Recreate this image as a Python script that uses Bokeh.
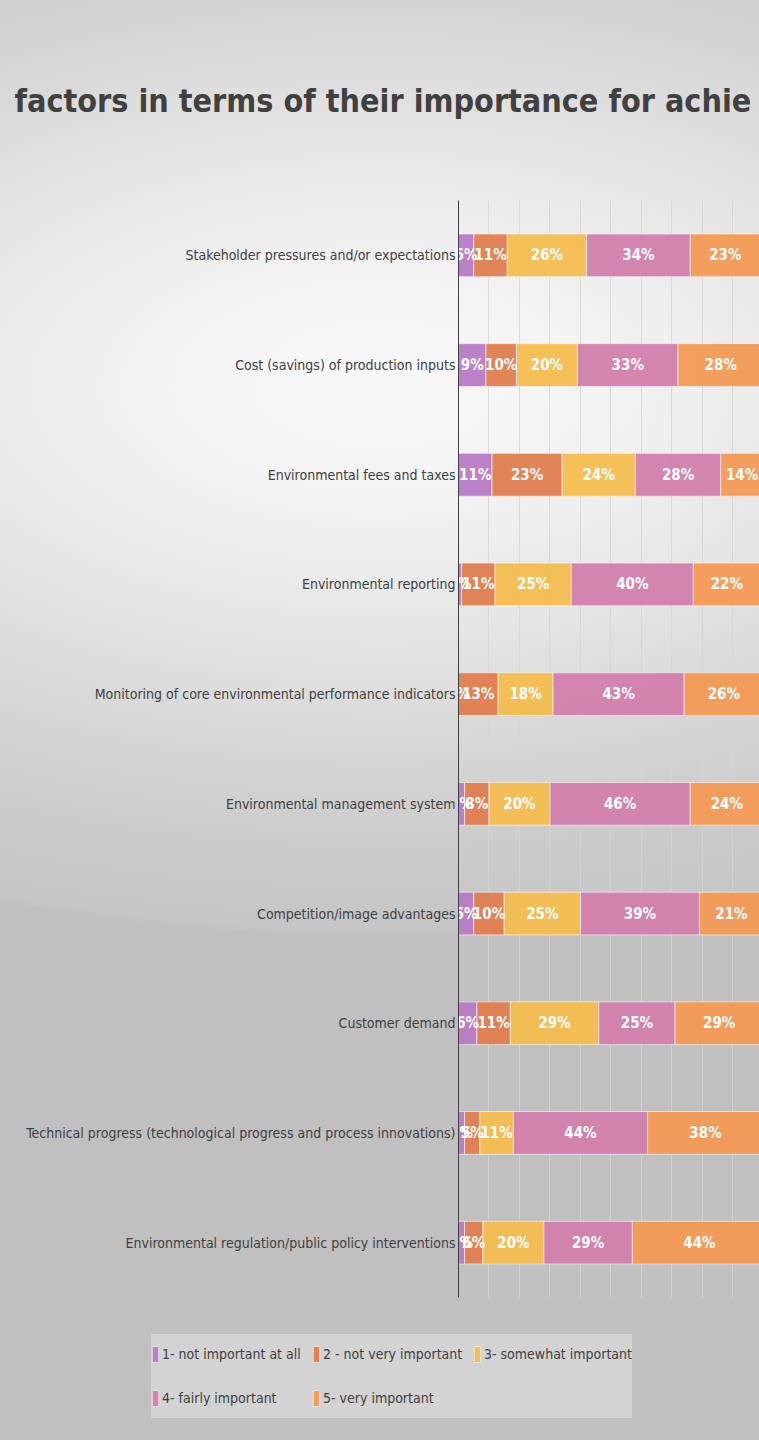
from bokeh.plotting import figure
from bokeh.layouts import column
from bokeh.models import ColumnDataSource, Legend, LegendItem, FactorRange, SingleIntervalTicker, Label
from bokeh.core.properties import value
from bokeh.embed import file_html
from bokeh.resources import INLINE

title_text = "factors in terms of their importance for achie"

categories = [
    "Stakeholder pressures and/or expectations",
    "Cost (savings) of production inputs",
    "Environmental fees and taxes",
    "Environmental reporting",
    "Monitoring of core environmental performance indicators",
    "Environmental management system",
    "Competition/image advantages",
    "Customer demand",
    "Technical progress (technological progress and process innovations)",
    "Environmental regulation/public policy interventions",
]

not_important_at_all = [5, 9, 11, 1, 0, 2, 5, 6, 2, 2]
not_very_important = [11, 10, 23, 11, 13, 8, 10, 11, 5, 6]
somewhat_important = [26, 20, 24, 25, 18, 20, 25, 29, 11, 20]
fairly_important = [34, 33, 28, 40, 43, 46, 39, 25, 44, 29]
very_important = [23, 28, 14, 22, 26, 24, 21, 29, 38, 44]

series_names = [
    "1- not important at all",
    "2 - not very important",
    "3- somewhat important",
    "4- fairly important",
    "5- very important",
]
series_values = [not_important_at_all, not_very_important, somewhat_important,
                 fairly_important, very_important]
colors = ["#b87bc6", "#df7d4f", "#f5bd50", "#d27fad", "#f39a55"]

FONT = "DejaVu Sans Condensed"


def no_align(fig):
    if "frame_align" in fig.properties():
        fig.frame_align = False


def bare(fig):
    fig.title.visible = False
    fig.background_fill_color = None
    fig.border_fill_color = None
    fig.outline_line_color = None


# ---- title panel ----
pt = figure(width=759, height=200, x_range=(0, 1), y_range=(0, 1),
            output_backend="svg", toolbar_location=None,
            min_border_left=0, min_border_right=0, min_border_top=0, min_border_bottom=0)
bare(pt)
no_align(pt)
pt.axis.visible = False
pt.grid.visible = False
pt.add_layout(Label(x=14, y=100, x_units="screen", y_units="screen", text=title_text,
                    text_font=FONT, text_font_style="bold", text_font_size="32px",
                    text_color="#404040", text_baseline="middle"))

# ---- chart ----
p = figure(
    width=759, height=1110,
    y_range=FactorRange(*list(reversed(categories))),
    x_range=(0, 98.7),
    output_backend="svg", toolbar_location=None,
    min_border_left=458, min_border_right=0,
    min_border_top=0, min_border_bottom=13,
)
bare(p)
no_align(p)

p.xaxis.visible = False
p.xgrid.ticker = SingleIntervalTicker(interval=10)
p.xgrid.grid_line_color = "#d4d4d4"
p.xgrid.grid_line_alpha = 0.8
p.ygrid.grid_line_color = None

yax = p.yaxis[0]
yax.axis_line_color = "#404040"
yax.axis_line_width = 1
yax.major_tick_line_color = None
yax.minor_tick_line_color = None
yax.major_tick_out = 0
yax.major_tick_in = 0
yax.major_label_standoff = 3
yax.major_label_text_font = FONT
yax.major_label_text_font_size = "14px"
yax.major_label_text_color = "#404040"

left = [0] * len(categories)
lab_x, lab_y, lab_t = [], [], []
for name, vals, col in zip(series_names, series_values, colors):
    right = [l + v for l, v in zip(left, vals)]
    src = ColumnDataSource(dict(y=categories, left=left, right=right))
    p.hbar(y="y", left="left", right="right", height=0.39, source=src,
           fill_color=col, fill_alpha=0.95, line_color="#f2f2f2", line_alpha=0.7,
           line_width=1)
    for c, l, v in zip(categories, left, vals):
        lab_x.append(l + v / 2)
        lab_y.append(c)
        lab_t.append(f"{v}%")
    left = right

lsrc = ColumnDataSource(dict(x=lab_x, y=lab_y, t=lab_t))
p.text(x="x", y="y", text="t", source=lsrc, text_align="center", text_baseline="middle",
       text_color="white", text_font=value(FONT), text_font_style="bold",
       text_font_size="15px")

# ---- legend panel ----
p2 = figure(width=759, height=130, x_range=(0, 1), y_range=(0, 1),
            output_backend="svg", toolbar_location=None,
            min_border_left=0, min_border_right=0, min_border_top=0, min_border_bottom=0)
bare(p2)
no_align(p2)
p2.axis.visible = False
p2.grid.visible = False
nan = float("nan")
leg_renderers = []
for col in colors:
    r = p2.hbar(y="y", left="left", right="right", height=0.39,
                source=ColumnDataSource(dict(y=[nan], left=[nan], right=[nan])),
                fill_color=col, fill_alpha=0.95, line_color="#f2f2f2", line_alpha=0.7)
    leg_renderers.append(r)

legend = Legend(
    items=[LegendItem(label=n, renderers=[r]) for n, r in zip(series_names, leg_renderers)],
    orientation="horizontal", ncols=3,
    location=(151, 22),
    background_fill_color="#d3d3d3", background_fill_alpha=1.0,
    border_line_color=None,
    label_text_font=FONT, label_text_font_size="14px", label_text_color="#404040",
    glyph_width=8, glyph_height=20, label_standoff=3, spacing=4, padding=14,
    label_height=40, label_width=146,
)
p2.add_layout(legend, "center")

layout = column(pt, p, p2, spacing=0)
layout.styles = {
    "background-image": "radial-gradient(ellipse 1100px 560px at 380px 385px, "
                        "#f9f9f9 0%, #f3f3f3 20%, #e8e8e8 40%, #dadada 60%, "
                        "#cdcdcd 80%, #c5c5c5 97.5%, #c0c0c0 98.5%)",
    "background-color": "#c0c0c0",
}
open("out.html", "w").write(file_html(layout, INLINE))
